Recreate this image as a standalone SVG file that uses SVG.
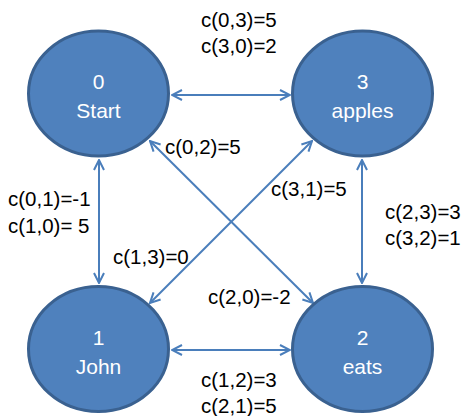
<svg xmlns="http://www.w3.org/2000/svg" width="462" height="416" viewBox="0 0 462 416">
<defs>
<style>
.node{fill:#4f81bd;stroke:#3a6190;stroke-width:3}
.nt{font-family:"Liberation Sans",Arial,sans-serif;font-size:21px;fill:#ffffff;text-anchor:middle}
.lbl{font-family:"Liberation Sans",Arial,sans-serif;font-size:20.5px;fill:#000000}
.edge{stroke:#4a7ebb;stroke-width:2;fill:none;marker-start:url(#ah);marker-end:url(#ah)}
</style>
<marker id="ah" viewBox="0 0 12 12" refX="11" refY="6" markerWidth="12" markerHeight="12" markerUnits="userSpaceOnUse" orient="auto-start-reverse">
<path d="M1,1 L11,6 L1,11" fill="none" stroke="#4a7ebb" stroke-width="2"/>
</marker>
</defs>
<rect width="462" height="416" fill="#ffffff"/>
<g id="connectors">
<line class="edge" x1="172" y1="95" x2="290" y2="95"/>
<line class="edge" x1="99" y1="160" x2="99" y2="283"/>
<line class="edge" x1="362" y1="160" x2="362" y2="283"/>
<line class="edge" x1="172" y1="350" x2="290" y2="350"/>
<line class="edge" x1="150" y1="141" x2="313" y2="303"/>
<line class="edge" x1="312" y1="141" x2="150" y2="303"/>
</g>
<g id="node0">
<ellipse class="node" cx="98.5" cy="93.5" rx="70" ry="62.5"/>
<text class="nt" x="98.5" y="89">0</text>
<text class="nt" x="98.5" y="118">Start</text>
</g>
<g id="node3">
<ellipse class="node" cx="362.5" cy="93.5" rx="70" ry="62.5"/>
<text class="nt" x="362.5" y="89">3</text>
<text class="nt" x="362.5" y="118">apples</text>
</g>
<g id="node1">
<ellipse class="node" cx="98.5" cy="349" rx="70" ry="62.5"/>
<text class="nt" x="98.5" y="345">1</text>
<text class="nt" x="98.5" y="374">John</text>
</g>
<g id="node2">
<ellipse class="node" cx="362.5" cy="349" rx="70" ry="62.5"/>
<text class="nt" x="362.5" y="345">2</text>
<text class="nt" x="362.5" y="374">eats</text>
</g>
<g id="labels">
<text class="lbl" x="201" y="27">c(0,3)=5</text>
<text class="lbl" x="201" y="53">c(3,0)=2</text>
<text class="lbl" x="165" y="154">c(0,2)=5</text>
<text class="lbl" x="271" y="196">c(3,1)=5</text>
<text class="lbl" x="8" y="206">c(0,1)=-1</text>
<text class="lbl" x="8" y="233">c(1,0)= 5</text>
<text class="lbl" x="385" y="219">c(2,3)=3</text>
<text class="lbl" x="385" y="245">c(3,2)=1</text>
<text class="lbl" x="113" y="264">c(1,3)=0</text>
<text class="lbl" x="208" y="304">c(2,0)=-2</text>
<text class="lbl" x="201" y="387">c(1,2)=3</text>
<text class="lbl" x="201" y="413">c(2,1)=5</text>
</g>
</svg>
